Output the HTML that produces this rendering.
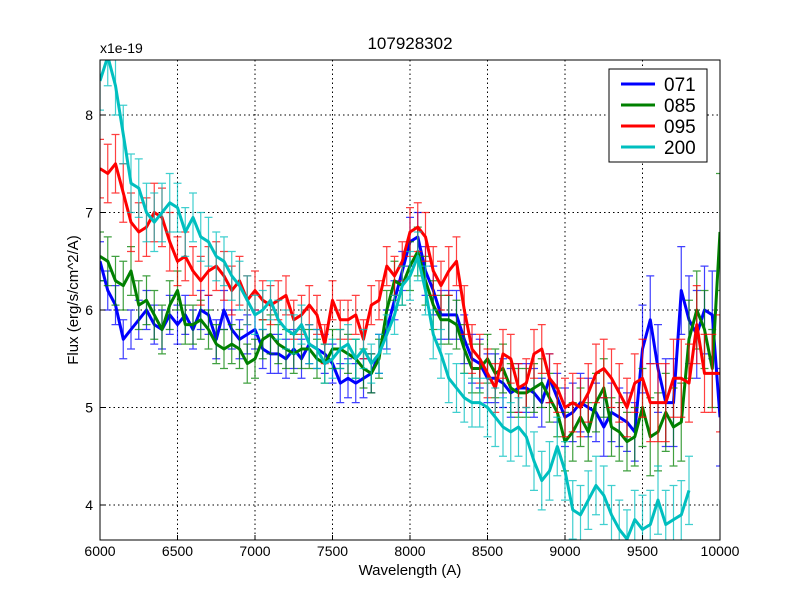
<!DOCTYPE html>
<html><head><meta charset="utf-8"><style>
body{margin:0;background:#fff;}
svg text{font-family:"Liberation Sans","DejaVu Sans",sans-serif;}
</style></head><body>
<svg id="chart" width="800" height="600" viewBox="0 0 800 600" xmlns="http://www.w3.org/2000/svg">
<rect width="800" height="600" fill="#fff"/>
<defs><clipPath id="clip"><rect x="100" y="60" width="620" height="480"/></clipPath></defs>
<text x="410" y="49" font-size="17" text-anchor="middle">107928302</text>
<text x="100" y="53" font-size="14">x1e-19</text>
<text x="410" y="575" font-size="15" text-anchor="middle">Wavelength (A)</text>
<text x="78" y="300" font-size="15" text-anchor="middle" transform="rotate(-90 78 300)">Flux (erg/s/cm^2/A)</text>
<g id="grid"></g>
<g id="series" clip-path="url(#clip)"></g>
<rect x="100" y="60" width="620" height="480" fill="none" stroke="#000" stroke-width="1"/>
<g id="ticks"></g>
<g>
<rect x="609" y="69" width="98" height="93" fill="#fff" stroke="#000"/>
<line x1="621" y1="84" x2="655" y2="84" stroke="#0000ff" stroke-width="3"/>
<text x="664" y="91" font-size="19">071</text>
<line x1="621" y1="105" x2="655" y2="105" stroke="#008000" stroke-width="3"/>
<text x="664" y="112" font-size="19">085</text>
<line x1="621" y1="126" x2="655" y2="126" stroke="#ff0000" stroke-width="3"/>
<text x="664" y="133" font-size="19">095</text>
<line x1="621" y1="147" x2="655" y2="147" stroke="#00bfbf" stroke-width="3"/>
<text x="664" y="154" font-size="19">200</text>
</g>
</svg>
<script>
const xTicks=[6000,6500,7000,7500,8000,8500,9000,9500,10000];
const yTicks=[4,5,6,7,8];
const lam=[];for(let w=6000;w<=10000;w+=50)lam.push(w);
const s071=[6.5,6.2,6.05,5.7,5.8,5.9,6.0,5.85,5.8,5.95,5.85,5.95,5.8,6.0,5.95,5.7,6.0,5.8,5.7,5.75,5.8,5.6,5.55,5.55,5.5,5.6,5.5,5.65,5.6,5.55,5.45,5.25,5.3,5.25,5.3,5.35,5.55,5.8,6.1,6.4,6.7,6.75,6.4,6.2,5.95,5.95,5.95,5.7,5.5,5.45,5.3,5.3,5.25,5.15,5.2,5.2,5.15,5.05,5.3,5.1,4.9,4.95,5.05,5.0,4.95,4.8,4.95,4.9,4.85,4.75,5.6,5.9,5.4,5.05,5.05,6.2,5.9,5.75,6.0,5.95,4.9];
const s085=[6.55,6.5,6.3,6.25,6.4,6.05,6.1,5.95,5.8,6.05,6.2,5.85,5.85,5.9,5.8,5.65,5.6,5.65,5.6,5.45,5.5,5.7,5.75,5.65,5.6,5.55,5.6,5.6,5.5,5.45,5.6,5.6,5.55,5.5,5.4,5.35,5.5,6.0,6.3,6.25,6.45,6.6,6.3,6.05,5.9,5.9,5.85,5.6,5.4,5.4,5.5,5.35,5.4,5.2,5.15,5.15,5.2,5.25,5.1,4.95,4.65,4.75,4.9,4.75,5.05,5.2,4.8,4.75,4.65,4.7,5.0,4.7,4.75,4.95,4.8,4.85,5.7,6.0,5.8,5.4,6.8];
const s095=[7.45,7.4,7.5,7.2,6.9,6.8,6.85,7.0,6.95,6.7,6.5,6.55,6.4,6.3,6.4,6.45,6.35,6.2,6.3,6.1,6.2,6.1,6.05,6.1,6.15,5.9,5.95,6.05,5.95,5.65,6.1,5.9,5.9,5.95,5.7,6.05,6.1,6.45,6.35,6.5,6.8,6.85,6.75,6.4,6.25,6.4,6.5,6.0,5.6,5.5,5.35,5.2,5.55,5.5,5.2,5.25,5.55,5.6,5.3,5.2,5.0,5.05,5.0,5.15,5.35,5.4,5.3,5.15,5.0,5.25,5.3,5.05,5.05,5.05,5.3,5.3,5.25,5.85,5.35,5.35,5.35];
const s200=[8.35,8.6,8.3,7.8,7.3,7.25,7.0,6.9,7.0,7.1,7.05,6.8,6.95,6.75,6.7,6.55,6.5,6.35,6.25,6.1,5.95,6.0,6.1,5.9,5.8,5.75,5.85,5.65,5.6,5.45,5.5,5.6,5.65,5.5,5.6,5.45,5.55,5.75,5.95,6.25,6.35,6.55,6.2,5.75,5.55,5.3,5.2,5.1,5.05,5.05,5.0,4.9,4.8,4.75,4.8,4.7,4.45,4.25,4.35,4.6,4.35,3.95,3.9,4.05,4.2,4.1,3.9,3.75,3.65,3.85,3.75,3.8,4.05,3.8,3.85,3.9,4.15];
const err071=[0.2,0.2,0.2,0.2,0.25,0.25,0.3,0.45,0.5];
const err085=[0.25,0.2,0.2,0.2,0.25,0.25,0.3,0.4,0.6];
const err095=[0.3,0.25,0.2,0.2,0.25,0.25,0.3,0.4,0.6];
const err200=[0.3,0.25,0.2,0.2,0.25,0.3,0.3,0.35,0.5];
const names=['071','085','095','200'];
const colors=['#0000ff','#008000','#ff0000','#00bfbf'];
const seriesVals=[s071,s085,s095,s200];
const seriesErr=[err071,err085,err095,err200];
const NS='http://www.w3.org/2000/svg';
const X=w=>100+(w-6000)/4000*620;
const Y=v=>115+(8-v)*97.5;
function mk(tag,attrs,parent){const e=document.createElementNS(NS,tag);for(const k in attrs)e.setAttribute(k,attrs[k]);parent.appendChild(e);return e;}
const grid=document.getElementById('grid'),ticks=document.getElementById('ticks'),ser=document.getElementById('series');
xTicks.forEach(t=>{const x=X(t);
 const g=mk('line',{x1:x,y1:60,x2:x,y2:540,stroke:'#000','stroke-dasharray':'1.5,3','stroke-width':1},grid);
 
 
 const tk=mk('line',{x1:x,y1:540,x2:x,y2:535,stroke:'#000'},ticks);
 
 
 const tl=mk('text',{x:x,y:556,'font-size':14,'text-anchor':'middle'},ticks);tl.textContent=t;
 
 
});
yTicks.forEach(t=>{const y=Y(t);
 const g=mk('line',{x1:100,y1:y,x2:720,y2:y,stroke:'#000','stroke-dasharray':'1.5,3','stroke-width':1},grid);
 
 
 const tk=mk('line',{x1:100,y1:y,x2:105,y2:y,stroke:'#000'},ticks);
 
 
 const tl=mk('text',{x:93,y:y+5,'font-size':14,'text-anchor':'end'},ticks);tl.textContent=t;
 
 
});
seriesVals.forEach((vals,si)=>{
 const c=colors[si];const g=mk('g',{},ser);
 
 
 let pts=[];
 vals.forEach((v,i)=>{const w=lam[i];const e=seriesErr[si][Math.min(8,Math.floor((w-6000)/500))];
  const x=X(w);
  const eb=mk('path',{d:`M${x},${Y(v-e)}V${Y(v+e)}M${x-4},${Y(v-e)}h8M${x-4},${Y(v+e)}h8`,stroke:c,'stroke-opacity':0.75,'stroke-width':1.2,fill:'none'},g);
  
  
  pts.push(x.toFixed(1)+','+Y(v).toFixed(1));});
 const pl=mk('polyline',{points:pts.join(' '),fill:'none',stroke:c,'stroke-width':3,'stroke-linejoin':'round'},g);
 
 
});
</script>
</body></html>
